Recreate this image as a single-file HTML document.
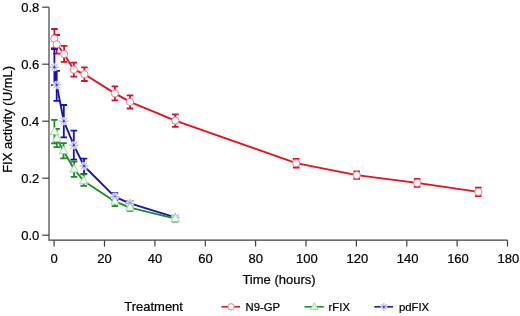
<!DOCTYPE html>
<html><head><meta charset="utf-8"><title>FIX activity</title>
<style>
html,body{margin:0;padding:0;background:#fff;}
body{width:520px;height:316px;overflow:hidden;font-family:"Liberation Sans",sans-serif;}
svg{display:block;will-change:transform;}
text{font-family:"Liberation Sans",sans-serif;fill:#000;stroke:#000;stroke-width:0.22px;}
.t{font-size:13px;}
.l{font-size:13px;}
.s{font-size:11.3px;}
</style></head><body>
<svg width="520" height="316" viewBox="0 0 520 316">
<rect width="520" height="316" fill="#fff"/>
<path d="M49 7.2V240.2H507.5" fill="none" stroke="#404040" stroke-width="1.2"/>
<path d="M42.2 235.2H49" stroke="#404040" stroke-width="1.2"/>
<text x="39.3" y="239.7" text-anchor="end" class="t">0.0</text>
<path d="M42.2 178.2H49" stroke="#404040" stroke-width="1.2"/>
<text x="39.3" y="182.7" text-anchor="end" class="t">0.2</text>
<path d="M42.2 121.2H49" stroke="#404040" stroke-width="1.2"/>
<text x="39.3" y="125.7" text-anchor="end" class="t">0.4</text>
<path d="M42.2 64.2H49" stroke="#404040" stroke-width="1.2"/>
<text x="39.3" y="68.7" text-anchor="end" class="t">0.6</text>
<path d="M42.2 7.2H49" stroke="#404040" stroke-width="1.2"/>
<text x="39.3" y="11.7" text-anchor="end" class="t">0.8</text>
<path d="M54.1 240.2V246.6" stroke="#404040" stroke-width="1.2"/>
<text x="54.2" y="262.9" text-anchor="middle" class="t">0</text>
<path d="M104.5 240.2V246.6" stroke="#404040" stroke-width="1.2"/>
<text x="104.6" y="262.9" text-anchor="middle" class="t">20</text>
<path d="M154.9 240.2V246.6" stroke="#404040" stroke-width="1.2"/>
<text x="155.0" y="262.9" text-anchor="middle" class="t">40</text>
<path d="M205.3 240.2V246.6" stroke="#404040" stroke-width="1.2"/>
<text x="205.4" y="262.9" text-anchor="middle" class="t">60</text>
<path d="M255.6 240.2V246.6" stroke="#404040" stroke-width="1.2"/>
<text x="255.7" y="262.9" text-anchor="middle" class="t">80</text>
<path d="M306.0 240.2V246.6" stroke="#404040" stroke-width="1.2"/>
<text x="306.9" y="262.9" text-anchor="middle" class="t">100</text>
<path d="M356.4 240.2V246.6" stroke="#404040" stroke-width="1.2"/>
<text x="357.3" y="262.9" text-anchor="middle" class="t">120</text>
<path d="M406.8 240.2V246.6" stroke="#404040" stroke-width="1.2"/>
<text x="407.7" y="262.9" text-anchor="middle" class="t">140</text>
<path d="M457.1 240.2V246.6" stroke="#404040" stroke-width="1.2"/>
<text x="458.0" y="262.9" text-anchor="middle" class="t">160</text>
<path d="M507.5 240.2V246.6" stroke="#404040" stroke-width="1.2"/>
<text x="508.4" y="262.9" text-anchor="middle" class="t">180</text>
<text x="279" y="284.3" text-anchor="middle" class="l">Time (hours)</text>
<text transform="translate(12.3 119.4) rotate(-90)" text-anchor="middle" class="l">FIX activity (U/mL)</text>
<polyline points="54.4,38.6 56.7,44.3 64.1,53.9 73.8,69.7 84.4,74.2 114.9,93.4 130.0,101.9 175.3,120.6 296.2,163.2 356.7,175.1 417.1,182.9 478.3,191.9" fill="none" stroke="#e6101e" stroke-width="1.85" stroke-linejoin="round"/>
<path d="M54.4 29.0V48.2M51.1 29.0H57.7M51.1 48.2H57.7" stroke="#d80f2a" stroke-width="1.8" fill="none"/>
<path d="M56.7 35.0V53.6M53.4 35.0H60.0M53.4 53.6H60.0" stroke="#d80f2a" stroke-width="1.8" fill="none"/>
<path d="M64.1 45.9V61.9M60.8 45.9H67.4M60.8 61.9H67.4" stroke="#d80f2a" stroke-width="1.8" fill="none"/>
<path d="M73.8 62.7V76.7M70.5 62.7H77.1M70.5 76.7H77.1" stroke="#d80f2a" stroke-width="1.8" fill="none"/>
<path d="M84.4 67.4V81.0M81.1 67.4H87.7M81.1 81.0H87.7" stroke="#d80f2a" stroke-width="1.8" fill="none"/>
<path d="M114.9 86.4V100.4M111.6 86.4H118.2M111.6 100.4H118.2" stroke="#d80f2a" stroke-width="1.8" fill="none"/>
<path d="M130.0 95.3V108.5M126.7 95.3H133.3M126.7 108.5H133.3" stroke="#d80f2a" stroke-width="1.8" fill="none"/>
<path d="M175.3 114.3V126.9M172.0 114.3H178.6M172.0 126.9H178.6" stroke="#d80f2a" stroke-width="1.8" fill="none"/>
<path d="M296.2 158.9V167.5M292.9 158.9H299.5M292.9 167.5H299.5" stroke="#d80f2a" stroke-width="1.8" fill="none"/>
<path d="M356.7 171.4V178.8M353.4 171.4H360.0M353.4 178.8H360.0" stroke="#d80f2a" stroke-width="1.8" fill="none"/>
<path d="M417.1 178.9V186.9M413.8 178.9H420.4M413.8 186.9H420.4" stroke="#d80f2a" stroke-width="1.8" fill="none"/>
<path d="M478.3 187.7V196.1M475.0 187.7H481.6M475.0 196.1H481.6" stroke="#d80f2a" stroke-width="1.8" fill="none"/>
<circle cx="54.4" cy="38.6" r="3.6" fill="#fff" stroke="#e8707a" stroke-width="0.9"/>
<circle cx="56.7" cy="44.3" r="3.6" fill="#fff" stroke="#e8707a" stroke-width="0.9"/>
<circle cx="64.1" cy="53.9" r="3.6" fill="#fff" stroke="#e8707a" stroke-width="0.9"/>
<circle cx="73.8" cy="69.7" r="3.6" fill="#fff" stroke="#e8707a" stroke-width="0.9"/>
<circle cx="84.4" cy="74.2" r="3.6" fill="#fff" stroke="#e8707a" stroke-width="0.9"/>
<circle cx="114.9" cy="93.4" r="3.6" fill="#fff" stroke="#e8707a" stroke-width="0.9"/>
<circle cx="130.0" cy="101.9" r="3.6" fill="#fff" stroke="#e8707a" stroke-width="0.9"/>
<circle cx="175.3" cy="120.6" r="3.6" fill="#fff" stroke="#e8707a" stroke-width="0.9"/>
<circle cx="296.2" cy="163.2" r="3.6" fill="#fff" stroke="#e8707a" stroke-width="0.9"/>
<circle cx="356.7" cy="175.1" r="3.6" fill="#fff" stroke="#e8707a" stroke-width="0.9"/>
<circle cx="417.1" cy="182.9" r="3.6" fill="#fff" stroke="#e8707a" stroke-width="0.9"/>
<circle cx="478.3" cy="191.9" r="3.6" fill="#fff" stroke="#e8707a" stroke-width="0.9"/>
<polyline points="54.4,67.2 56.7,84.9 63.8,121.2 73.8,145.2 84.0,166.0 114.9,196.8 130.0,203.4 175.3,217.3" fill="none" stroke="#1812b4" stroke-width="1.85" stroke-linejoin="round"/>
<path d="M54.4 49.2V85.2M51.1 49.2H57.7M51.1 85.2H57.7" stroke="#1812b4" stroke-width="1.8" fill="none"/>
<path d="M56.7 70.9V100.9M53.4 70.9H60.0M53.4 100.9H60.0" stroke="#1812b4" stroke-width="1.8" fill="none"/>
<path d="M63.8 105.0V137.4M60.5 105.0H67.1M60.5 137.4H67.1" stroke="#1812b4" stroke-width="1.8" fill="none"/>
<path d="M73.8 130.7V159.7M70.5 130.7H77.1M70.5 159.7H77.1" stroke="#1812b4" stroke-width="1.8" fill="none"/>
<path d="M84.0 158.6V173.8M80.7 158.6H87.3M80.7 173.8H87.3" stroke="#1812b4" stroke-width="1.8" fill="none"/>
<path d="M114.9 193.2V200.4M111.6 193.2H118.2M111.6 200.4H118.2" stroke="#1812b4" stroke-width="1.8" fill="none"/>
<path d="M130.0 201.0V205.8M126.7 201.0H133.3M126.7 205.8H133.3" stroke="#1812b4" stroke-width="1.8" fill="none"/>
<path d="M175.3 216.1V218.5M172.0 216.1H178.6M172.0 218.5H178.6" stroke="#1812b4" stroke-width="1.8" fill="none"/>
<polyline points="54.4,131.8 56.7,138.6 63.5,150.8 74.1,169.2 83.7,181.0 114.9,201.4 130.0,207.6 175.3,218.7" fill="none" stroke="#1e8c24" stroke-width="1.85" stroke-linejoin="round"/>
<path d="M54.4 119.8V143.4M51.1 119.8H57.7M51.1 143.4H57.7" stroke="#1e8c24" stroke-width="1.8" fill="none"/>
<path d="M56.7 128.9V147.2M53.4 128.9H60.0M53.4 147.2H60.0" stroke="#1e8c24" stroke-width="1.8" fill="none"/>
<path d="M63.5 143.2V158.4M60.2 143.2H66.8M60.2 158.4H66.8" stroke="#1e8c24" stroke-width="1.8" fill="none"/>
<path d="M74.1 161.6V176.8M70.8 161.6H77.4M70.8 176.8H77.4" stroke="#1e8c24" stroke-width="1.8" fill="none"/>
<path d="M83.7 174.4V185.8M80.4 174.4H87.0M80.4 185.8H87.0" stroke="#1e8c24" stroke-width="1.8" fill="none"/>
<path d="M114.9 196.6V206.2M111.6 196.6H118.2M111.6 206.2H118.2" stroke="#1e8c24" stroke-width="1.8" fill="none"/>
<path d="M130.0 204.4V210.8M126.7 204.4H133.3M126.7 210.8H133.3" stroke="#1e8c24" stroke-width="1.8" fill="none"/>
<path d="M175.3 215.9V221.5M172.0 215.9H178.6M172.0 221.5H178.6" stroke="#1e8c24" stroke-width="1.8" fill="none"/>
<circle cx="54.4" cy="67.2" r="4.0" fill="#fff" fill-opacity="0.9"/>
<path d="M54.4 62.6V71.8M49.8 67.2H59.0M51.2 63.9L57.7 70.5M51.2 70.5L57.7 63.9" stroke="#8484ee" stroke-width="0.8" fill="none"/>
<circle cx="54.4" cy="67.2" r="0.9" fill="#2a2aa0"/>
<circle cx="56.7" cy="84.9" r="4.0" fill="#fff" fill-opacity="0.9"/>
<path d="M56.7 80.3V89.5M52.1 84.9H61.3M53.5 81.6L60.0 88.2M53.5 88.2L60.0 81.6" stroke="#8484ee" stroke-width="0.8" fill="none"/>
<circle cx="56.7" cy="84.9" r="0.9" fill="#2a2aa0"/>
<circle cx="63.8" cy="121.2" r="4.0" fill="#fff" fill-opacity="0.9"/>
<path d="M63.8 116.6V125.8M59.2 121.2H68.4M60.6 117.9L67.1 124.5M60.6 124.5L67.1 117.9" stroke="#8484ee" stroke-width="0.8" fill="none"/>
<circle cx="63.8" cy="121.2" r="0.9" fill="#2a2aa0"/>
<circle cx="73.8" cy="145.2" r="4.0" fill="#fff" fill-opacity="0.9"/>
<path d="M73.8 140.6V149.8M69.2 145.2H78.4M70.6 141.9L77.1 148.5M70.6 148.5L77.1 141.9" stroke="#8484ee" stroke-width="0.8" fill="none"/>
<circle cx="73.8" cy="145.2" r="0.9" fill="#2a2aa0"/>
<circle cx="84.0" cy="166.0" r="4.0" fill="#fff" fill-opacity="0.9"/>
<path d="M84.0 161.4V170.6M79.4 166.0H88.6M80.8 162.7L87.3 169.3M80.8 169.3L87.3 162.7" stroke="#8484ee" stroke-width="0.8" fill="none"/>
<circle cx="84.0" cy="166.0" r="0.9" fill="#2a2aa0"/>
<circle cx="114.9" cy="196.8" r="4.0" fill="#fff" fill-opacity="0.9"/>
<path d="M114.9 192.2V201.4M110.3 196.8H119.5M111.6 193.5L118.1 200.1M111.6 200.1L118.1 193.5" stroke="#8484ee" stroke-width="0.8" fill="none"/>
<circle cx="114.9" cy="196.8" r="0.9" fill="#2a2aa0"/>
<circle cx="130.0" cy="203.4" r="4.0" fill="#fff" fill-opacity="0.9"/>
<path d="M130.0 198.8V208.0M125.4 203.4H134.6M126.8 200.1L133.3 206.7M126.8 206.7L133.3 200.1" stroke="#8484ee" stroke-width="0.8" fill="none"/>
<circle cx="130.0" cy="203.4" r="0.9" fill="#2a2aa0"/>
<circle cx="175.3" cy="217.3" r="4.0" fill="#fff" fill-opacity="0.9"/>
<path d="M175.3 212.7V221.9M170.7 217.3H179.9M172.1 214.0L178.6 220.6M172.1 220.6L178.6 214.0" stroke="#8484ee" stroke-width="0.8" fill="none"/>
<circle cx="175.3" cy="217.3" r="0.9" fill="#2a2aa0"/>
<path d="M54.4 127.0L58.7 134.6H50.2Z" fill="#f0fbf7" stroke="#9ad69a" stroke-width="0.9" stroke-linejoin="round"/>
<path d="M56.7 133.8L60.9 141.4H52.5Z" fill="#f0fbf7" stroke="#9ad69a" stroke-width="0.9" stroke-linejoin="round"/>
<path d="M63.5 146.0L67.7 153.6H59.3Z" fill="#f0fbf7" stroke="#9ad69a" stroke-width="0.9" stroke-linejoin="round"/>
<path d="M74.1 164.4L78.3 172.0H69.9Z" fill="#f0fbf7" stroke="#9ad69a" stroke-width="0.9" stroke-linejoin="round"/>
<path d="M83.7 176.2L87.9 183.8H79.4Z" fill="#f0fbf7" stroke="#9ad69a" stroke-width="0.9" stroke-linejoin="round"/>
<path d="M114.9 196.6L119.1 204.2H110.7Z" fill="#f0fbf7" stroke="#9ad69a" stroke-width="0.9" stroke-linejoin="round"/>
<path d="M130.0 202.8L134.2 210.4H125.8Z" fill="#f0fbf7" stroke="#9ad69a" stroke-width="0.9" stroke-linejoin="round"/>
<path d="M175.3 213.9L179.6 221.5H171.1Z" fill="#f0fbf7" stroke="#9ad69a" stroke-width="0.9" stroke-linejoin="round"/>
<text x="124.2" y="311.4" class="l">Treatment</text>
<path d="M221.5 306.8H240" stroke="#e6101e" stroke-width="1.55"/>
<circle cx="231.1" cy="306.8" r="3.2" fill="#fff" stroke="#e8707a" stroke-width="0.9"/>
<text x="245.6" y="310.8" class="s">N9-GP</text>
<path d="M304.5 306.8H323.8" stroke="#1e8c24" stroke-width="1.55"/>
<path d="M314.3 302.7L318.1 309.5H310.5Z" fill="#d8f5e0" stroke="#9ad69a" stroke-width="0.9" stroke-linejoin="round"/>
<text x="328.6" y="310.8" class="s">rFIX</text>
<path d="M374.3 306.8H393" stroke="#1812b4" stroke-width="1.55"/>
<circle cx="383.9" cy="306.8" r="3.3" fill="#fff" fill-opacity="0.9"/>
<path d="M383.9 303.0V310.6M380.1 306.8H387.7M381.2 304.1L386.6 309.5M381.2 309.5L386.6 304.1" stroke="#8484ee" stroke-width="0.8" fill="none"/>
<circle cx="383.9" cy="306.8" r="0.9" fill="#2a2aa0"/>
<text x="399" y="310.8" class="s">pdFIX</text>
</svg>
</body></html>
